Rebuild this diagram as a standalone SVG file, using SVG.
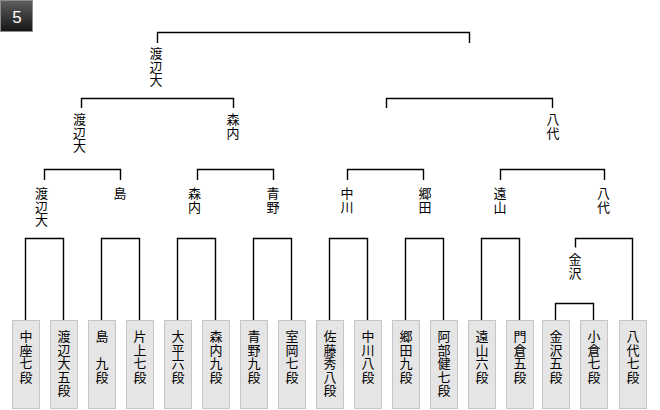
<svg xmlns="http://www.w3.org/2000/svg" width="660" height="410" viewBox="0 0 660 410">
<defs>
<linearGradient id="bg" x1="0" y1="0" x2="0" y2="1">
<stop offset="0" stop-color="#5e5e5e"/>
<stop offset="1" stop-color="#161616"/>
</linearGradient>
<style>
.ln{fill:none;stroke:#000;stroke-width:1.4}
.bx{fill:#e5e5e5;stroke:#c6c6c6;stroke-width:1}
.t{font-family:"Noto Sans CJK JP","Noto Sans CJK SC",sans-serif;font-size:13px;fill:#000;text-anchor:middle}
.num{font-family:"Liberation Sans",Arial,sans-serif;font-size:17px;fill:#fff;text-anchor:middle}
</style>
</defs>
<rect width="660" height="410" fill="#fff"/>
<g id="badge">
<rect x="0.5" y="0.5" width="32" height="31" fill="url(#bg)" stroke="#8c8c8c"/>
<text class="num" x="17" y="22.8">5</text>
</g>
<g id="connectors">
<path class="ln" d="M157.5,43V32.5H469.5V43"/>
<path class="ln" d="M81.5,108V98.5H233.5V108"/>
<path class="ln" d="M386.5,108V98.5H552.5V108"/>
<path class="ln" d="M44.5,180V169.5H120.5V180"/>
<path class="ln" d="M197.5,180V169.5H273.5V180"/>
<path class="ln" d="M347.5,180V169.5H423.5V180"/>
<path class="ln" d="M500.5,180V169.5H604.5V180"/>
<path class="ln" d="M25.5,320.5V238.5H63.5V320.5"/>
<path class="ln" d="M101.5,320.5V238.5H139.5V320.5"/>
<path class="ln" d="M177.5,320.5V238.5H215.5V320.5"/>
<path class="ln" d="M253.5,320.5V238.5H291.5V320.5"/>
<path class="ln" d="M329.5,320.5V238.5H367.5V320.5"/>
<path class="ln" d="M405.5,320.5V238.5H443.5V320.5"/>
<path class="ln" d="M481.5,320.5V238.5H519.5V320.5"/>
<path class="ln" d="M575.5,247.5V238.5H632.5V320.5"/>
<path class="ln" d="M555.5,320.5V303.5H593.5V320.5"/>
</g>
<g id="winners">
<text class="t" x="156" y="58"><tspan x="156">渡</tspan><tspan x="156" dy="13.7">辺</tspan><tspan x="156" dy="13.7">大</tspan></text>
<text class="t" x="79.5" y="124"><tspan x="79.5">渡</tspan><tspan x="79.5" dy="13.7">辺</tspan><tspan x="79.5" dy="13.7">大</tspan></text>
<text class="t" x="233" y="124"><tspan x="233">森</tspan><tspan x="233" dy="13.7">内</tspan></text>
<text class="t" x="553" y="124"><tspan x="553">八</tspan><tspan x="553" dy="13.7">代</tspan></text>
<text class="t" x="41.5" y="198"><tspan x="41.5">渡</tspan><tspan x="41.5" dy="13.7">辺</tspan><tspan x="41.5" dy="13.7">大</tspan></text>
<text class="t" x="120" y="198">島</text>
<text class="t" x="194.5" y="198"><tspan x="194.5">森</tspan><tspan x="194.5" dy="13.7">内</tspan></text>
<text class="t" x="273" y="198"><tspan x="273">青</tspan><tspan x="273" dy="13.7">野</tspan></text>
<text class="t" x="347" y="198"><tspan x="347">中</tspan><tspan x="347" dy="13.7">川</tspan></text>
<text class="t" x="425" y="198"><tspan x="425">郷</tspan><tspan x="425" dy="13.7">田</tspan></text>
<text class="t" x="500" y="198"><tspan x="500">遠</tspan><tspan x="500" dy="13.7">山</tspan></text>
<text class="t" x="603.5" y="198"><tspan x="603.5">八</tspan><tspan x="603.5" dy="13.7">代</tspan></text>
<text class="t" x="575" y="264"><tspan x="575">金</tspan><tspan x="575" dy="13.7">沢</tspan></text>
</g>
<g id="p1"><rect class="bx" x="12.5" y="320.5" width="27" height="88"/><text class="t" y="341"><tspan x="26">中</tspan><tspan x="26" dy="13.6">座</tspan><tspan x="26" dy="13.6">七</tspan><tspan x="26" dy="13.6">段</tspan></text></g>
<g id="p2"><rect class="bx" x="50.5" y="320.5" width="27" height="88"/><text class="t" y="341"><tspan x="64">渡</tspan><tspan x="64" dy="13.6">辺</tspan><tspan x="64" dy="13.6">大</tspan><tspan x="64" dy="13.6">五</tspan><tspan x="64" dy="13.6">段</tspan></text></g>
<g id="p3"><rect class="bx" x="88.5" y="320.5" width="27" height="88"/><text class="t" y="341"><tspan x="102">島</tspan><tspan x="102" dy="13.6">　</tspan><tspan x="102" dy="13.6">九</tspan><tspan x="102" dy="13.6">段</tspan></text></g>
<g id="p4"><rect class="bx" x="126.5" y="320.5" width="27" height="88"/><text class="t" y="341"><tspan x="140">片</tspan><tspan x="140" dy="13.6">上</tspan><tspan x="140" dy="13.6">七</tspan><tspan x="140" dy="13.6">段</tspan></text></g>
<g id="p5"><rect class="bx" x="164.5" y="320.5" width="27" height="88"/><text class="t" y="341"><tspan x="178">大</tspan><tspan x="178" dy="13.6">平</tspan><tspan x="178" dy="13.6">六</tspan><tspan x="178" dy="13.6">段</tspan></text></g>
<g id="p6"><rect class="bx" x="202.5" y="320.5" width="27" height="88"/><text class="t" y="341"><tspan x="216">森</tspan><tspan x="216" dy="13.6">内</tspan><tspan x="216" dy="13.6">九</tspan><tspan x="216" dy="13.6">段</tspan></text></g>
<g id="p7"><rect class="bx" x="240.5" y="320.5" width="27" height="88"/><text class="t" y="341"><tspan x="254">青</tspan><tspan x="254" dy="13.6">野</tspan><tspan x="254" dy="13.6">九</tspan><tspan x="254" dy="13.6">段</tspan></text></g>
<g id="p8"><rect class="bx" x="278.5" y="320.5" width="27" height="88"/><text class="t" y="341"><tspan x="292">室</tspan><tspan x="292" dy="13.6">岡</tspan><tspan x="292" dy="13.6">七</tspan><tspan x="292" dy="13.6">段</tspan></text></g>
<g id="p9"><rect class="bx" x="316.5" y="320.5" width="27" height="88"/><text class="t" y="341"><tspan x="330">佐</tspan><tspan x="330" dy="13.6">藤</tspan><tspan x="330" dy="13.6">秀</tspan><tspan x="330" dy="13.6">八</tspan><tspan x="330" dy="13.6">段</tspan></text></g>
<g id="p10"><rect class="bx" x="354.5" y="320.5" width="27" height="88"/><text class="t" y="341"><tspan x="368">中</tspan><tspan x="368" dy="13.6">川</tspan><tspan x="368" dy="13.6">八</tspan><tspan x="368" dy="13.6">段</tspan></text></g>
<g id="p11"><rect class="bx" x="392.5" y="320.5" width="27" height="88"/><text class="t" y="341"><tspan x="406">郷</tspan><tspan x="406" dy="13.6">田</tspan><tspan x="406" dy="13.6">九</tspan><tspan x="406" dy="13.6">段</tspan></text></g>
<g id="p12"><rect class="bx" x="430.5" y="320.5" width="27" height="88"/><text class="t" y="341"><tspan x="444">阿</tspan><tspan x="444" dy="13.6">部</tspan><tspan x="444" dy="13.6">健</tspan><tspan x="444" dy="13.6">七</tspan><tspan x="444" dy="13.6">段</tspan></text></g>
<g id="p13"><rect class="bx" x="468.5" y="320.5" width="27" height="88"/><text class="t" y="341"><tspan x="482">遠</tspan><tspan x="482" dy="13.6">山</tspan><tspan x="482" dy="13.6">六</tspan><tspan x="482" dy="13.6">段</tspan></text></g>
<g id="p14"><rect class="bx" x="506.5" y="320.5" width="27" height="88"/><text class="t" y="341"><tspan x="520">門</tspan><tspan x="520" dy="13.6">倉</tspan><tspan x="520" dy="13.6">五</tspan><tspan x="520" dy="13.6">段</tspan></text></g>
<g id="p15"><rect class="bx" x="542.5" y="320.5" width="27" height="88"/><text class="t" y="341"><tspan x="556">金</tspan><tspan x="556" dy="13.6">沢</tspan><tspan x="556" dy="13.6">五</tspan><tspan x="556" dy="13.6">段</tspan></text></g>
<g id="p16"><rect class="bx" x="580.5" y="320.5" width="27" height="88"/><text class="t" y="341"><tspan x="594">小</tspan><tspan x="594" dy="13.6">倉</tspan><tspan x="594" dy="13.6">七</tspan><tspan x="594" dy="13.6">段</tspan></text></g>
<g id="p17"><rect class="bx" x="619.5" y="320.5" width="27" height="88"/><text class="t" y="341"><tspan x="633">八</tspan><tspan x="633" dy="13.6">代</tspan><tspan x="633" dy="13.6">七</tspan><tspan x="633" dy="13.6">段</tspan></text></g>
</svg>
